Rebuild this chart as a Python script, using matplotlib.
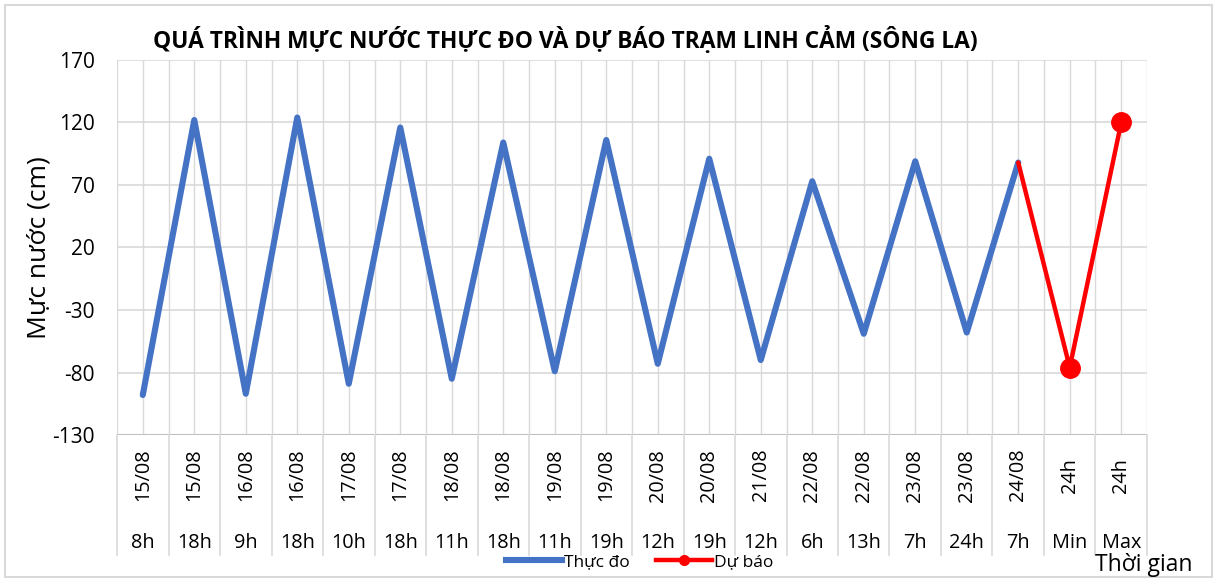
import matplotlib.pyplot as plt
from matplotlib.lines import Line2D
import numpy as np

plt.rcParams['font.family'] = ['Open Sans', 'Noto Sans', 'DejaVu Sans']
plt.rcParams['axes.unicode_minus'] = False

dates = ["15/08", "15/08", "16/08", "16/08", "17/08", "17/08", "18/08", "18/08",
         "19/08", "19/08", "20/08", "20/08", "21/08", "22/08", "22/08", "23/08",
         "23/08", "24/08", "24h", "24h"]
hours = ["8h", "18h", "9h", "18h", "10h", "18h", "11h", "18h", "11h", "19h",
         "12h", "19h", "12h", "6h", "13h", "7h", "24h", "7h", "Min", "Max"]
observed = [-98, 122, -97, 124, -89, 116, -85, 104, -79, 106,
            -73, 91, -70, 73, -49, 89, -48, 88]
forecast = [88, -76, 120]

BLUE = "#4472C4"
RED = "#FF0000"
GRID = "#D9D9D9"

fig = plt.figure(figsize=(12.14, 5.78), dpi=100)
ax = fig.add_axes([0.0964, 0.2474, 0.8484, 0.6488])

n = len(hours)
x_obs = np.arange(len(observed))
x_fc = np.arange(len(observed) - 1, len(observed) - 1 + len(forecast))

ax.plot(x_obs, observed, color=BLUE, lw=4.4, solid_joinstyle='round',
        solid_capstyle='round', zorder=3)
ax.plot(x_fc, forecast, color=RED, lw=3.2, solid_joinstyle='round',
        solid_capstyle='round', zorder=4)
ax.plot(x_fc[1:], forecast[1:], 'o', color=RED, ms=14, zorder=5)

ax.set_xlim(-0.5, n - 0.5)
ax.set_ylim(-130, 170)
ax.set_yticks(np.arange(-130, 171, 50))
ax.tick_params(axis='y', length=0, labelsize=15, pad=16)
ax.tick_params(axis='x', length=0, labelbottom=False)

# gridlines
for y in np.arange(-130, 171, 50):
    ax.axhline(y, color=GRID, lw=1.2, zorder=1)
for xv in np.arange(-0.5, n, 0.5):
    ax.axvline(xv, color=GRID, lw=1.0, zorder=1)
for s in ax.spines.values():
    s.set_visible(False)
ax.axhline(-130, color="#BFBFBF", lw=1.5, zorder=2)

# two-level category labels
tr = ax.get_xaxis_transform()
for i in range(n):
    ax.text(i, -0.107, dates[i], transform=tr, rotation=90, ha='center',
            va='center', fontsize=14.3)
    ax.text(i, -0.287, hours[i], transform=tr, ha='center', va='center',
            fontsize=14.3)
for xb in np.arange(-0.5, n, 1.0):
    ax.plot([xb, xb], [0, -0.32], transform=tr, color=GRID, lw=1.2,
            clip_on=False)

ax.set_ylabel("Mực nước (cm)", fontsize=19)
ax.yaxis.set_label_coords(-0.064, 0.5)

fig.text(0.466, 0.93, "QUÁ TRÌNH MỰC NƯỚC THỰC ĐO VÀ DỰ BÁO TRẠM LINH CẢM (SÔNG LA)",
         ha='center', va='center', fontsize=16.4, fontweight='bold')
fig.text(0.942, 0.022, "Thời gian", ha='center', va='center', fontsize=16.5)

handles = [Line2D([], [], color=BLUE, lw=4.4),
           Line2D([], [], color=RED, lw=3.2, marker='o', ms=7)]
fig.legend(handles, ["Thực đo", "Dự báo"], loc='center', ncol=2,
           bbox_to_anchor=(0.527, 0.028), frameon=False, fontsize=12.5,
           handlelength=3.2, columnspacing=1.5, handletextpad=0.15)

# chart border
fig.patches.append(plt.Rectangle((0.004, 0.002), 0.994, 0.99, transform=fig.transFigure,
                                 fill=False, edgecolor="#D9D9D9", lw=1.5))

fig.savefig("out.png", dpi=100)
